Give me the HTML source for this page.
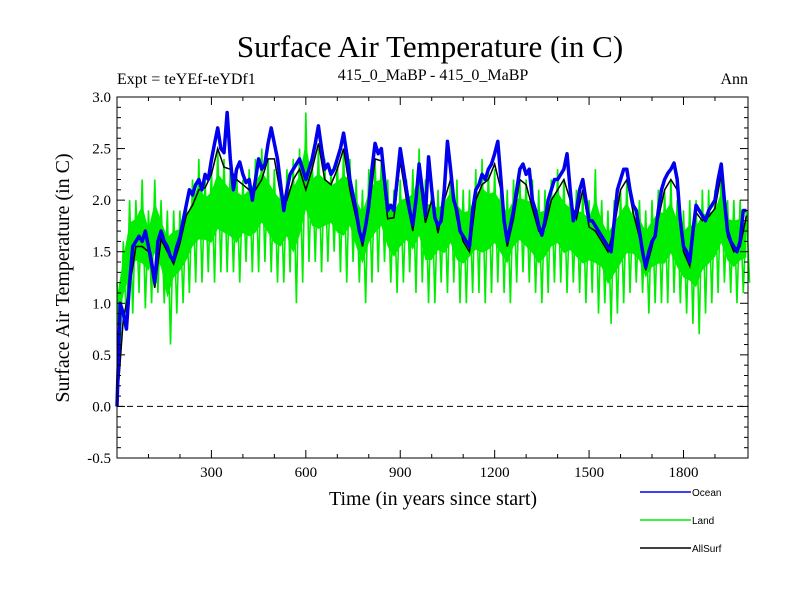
<!DOCTYPE html>
<html><head><meta charset="utf-8"><style>
body{margin:0;background:#fff;}
svg text{font-family:"Liberation Serif",serif;}
</style></head><body>
<svg id="chart" width="800" height="600" xmlns="http://www.w3.org/2000/svg">
<rect width="800" height="600" fill="#fff"/>
<text x="430" y="57" font-size="31" text-anchor="middle">Surface Air Temperature (in C)</text>
<text x="117" y="84" font-size="16">Expt = teYEf-teYDf1</text>
<text x="433" y="80" font-size="16" text-anchor="middle">415_0_MaBP - 415_0_MaBP</text>
<text x="748" y="84" font-size="16" text-anchor="end">Ann</text>
<text x="433" y="505" font-size="20" text-anchor="middle">Time (in years since start)</text>
<text transform="translate(69,278) rotate(-90)" font-size="20" text-anchor="middle">Surface Air Temperature (in C)</text>
<g id="plot"></g>
<g id="axes"></g>
<g id="legend"></g>
</svg>
<script>
const ocean=[0,1.0,0.9,0.75,1.2,1.55,1.6,1.65,1.6,1.7,1.55,1.4,1.2,1.6,1.7,1.6,1.55,1.45,1.42,1.55,1.64,1.8,1.95,2.1,2.05,2.15,2.2,2.1,2.25,2.2,2.39,2.55,2.7,2.5,2.46,2.85,2.4,2.1,2.3,2.37,2.25,2.17,2.2,2.0,2.2,2.4,2.3,2.35,2.55,2.7,2.55,2.4,2.15,1.9,2.1,2.25,2.3,2.35,2.4,2.3,2.2,2.3,2.4,2.55,2.72,2.5,2.3,2.35,2.25,2.3,2.4,2.5,2.65,2.45,2.2,2.05,1.9,1.7,1.6,1.75,1.95,2.3,2.55,2.45,2.5,2.2,1.9,1.95,1.9,2.2,2.5,2.3,2.1,1.9,1.76,2.0,2.35,2.1,1.85,2.42,2.1,1.83,1.75,1.8,2.1,2.57,2.3,2.0,1.9,1.7,1.65,1.6,1.55,1.9,2.1,2.15,2.25,2.2,2.3,2.35,2.45,2.57,2.2,1.8,1.6,1.75,1.9,2.1,2.3,2.35,2.25,2.3,2.0,1.9,1.75,1.66,1.8,2.0,2.1,2.2,2.2,2.25,2.3,2.45,2.1,1.8,1.9,2.1,2.2,2.0,1.8,1.8,1.75,1.7,1.65,1.6,1.55,1.5,1.8,2.1,2.2,2.3,2.3,2.1,1.95,1.9,1.7,1.5,1.35,1.5,1.6,1.65,1.9,2.1,2.2,2.26,2.3,2.36,2.2,1.8,1.55,1.5,1.4,1.7,1.95,1.9,1.85,1.8,1.9,1.95,2.0,2.2,2.35,2.0,1.7,1.6,1.55,1.5,1.6,1.9,1.9];
const allSurf=[0,0.85,1.15,1.55,1.55,1.5,1.15,1.62,1.5,1.38,1.58,1.85,1.95,2.1,2.12,2.25,2.5,2.32,2.3,2.2,2.15,2.1,2.1,2.2,2.4,2.4,2.05,2.0,2.2,2.3,2.1,2.3,2.55,2.2,2.15,2.3,2.5,2.1,1.82,1.55,1.88,2.4,2.38,1.82,1.83,2.38,2.0,1.7,2.25,1.78,2.0,1.68,2.0,2.2,1.82,1.6,1.5,2.0,2.15,2.2,2.35,2.1,1.55,1.82,2.2,2.15,1.92,1.7,1.74,2.0,2.1,2.2,2.0,1.82,2.1,1.74,1.7,1.6,1.5,1.74,2.1,2.2,1.88,1.64,1.32,1.55,1.82,2.1,2.2,2.1,1.5,1.36,1.88,1.8,1.84,1.92,2.25,1.65,1.5,1.55,1.85];
const landHigh=[1.2,1.6,2.0,2.0,2.2,1.9,2.2,2.0,1.9,1.9,1.9,2.0,2.2,2.4,2.2,2.3,2.5,2.4,2.3,2.3,2.2,2.3,2.4,2.5,2.4,2.3,2.2,2.3,2.4,2.5,2.85,2.4,2.5,2.4,2.3,2.4,2.5,2.4,2.2,2.1,2.3,2.4,2.4,2.2,2.1,2.2,2.2,2.3,2.5,2.2,2.2,2.1,2.2,2.3,2.2,2.1,2.1,2.3,2.4,2.3,2.3,2.2,2.1,2.2,2.2,2.2,2.2,2.1,2.1,2.2,2.3,2.2,2.1,2.1,2.1,2.0,2.3,2.0,1.9,2.0,2.1,2.2,2.0,2.0,1.9,2.0,2.1,2.1,2.2,2.0,1.9,2.0,2.0,2.1,2.1,2.1,2.3,2.0,2.0,2.0,1.9];
const landLow=[0.5,0.8,0.9,1.1,0.95,1.0,1.1,1.0,0.6,0.9,1.0,1.1,1.2,1.2,1.3,1.2,1.3,1.3,1.3,1.2,1.4,1.3,1.3,1.4,1.3,1.2,1.2,1.3,1.0,1.2,1.4,1.4,1.3,1.4,1.5,1.3,1.2,1.4,1.2,1.0,1.2,1.3,1.4,1.2,1.1,1.2,1.3,1.1,1.2,1.0,1.0,1.2,1.1,1.2,1.0,1.0,1.1,1.1,1.0,1.1,1.2,1.1,1.0,1.2,1.3,1.2,1.1,1.0,1.1,1.2,1.2,1.1,1.2,1.1,1.0,1.1,0.9,1.0,0.8,0.9,1.0,1.1,1.2,1.1,0.9,1.0,1.0,1.0,1.1,1.0,0.9,0.8,0.7,0.9,1.0,1.1,1.2,1.1,1.0,1.1,1.2];
const xTicks=[300,600,900,1200,1500,1800];
const yTicks=[-0.5,0.0,0.5,1.0,1.5,2.0,2.5,3.0];
const seriesNames=["Ocean","Land","AllSurf"];

const X0=117,X1=748,Y0=97,Y1=458,xMin=0,xMax=2005,yMin=-0.5,yMax=3.0;
const sx=v=>X0+(v-xMin)/(xMax-xMin)*(X1-X0);
const sy=v=>Y1-(v-yMin)/(yMax-yMin)*(Y1-Y0);
const NS="http://www.w3.org/2000/svg";
const plot=document.getElementById('plot'),axes=document.getElementById('axes'),legend=document.getElementById('legend');
function mk(t,a,p){const e=document.createElementNS(NS,t);for(const k in a)e.setAttribute(k,a[k]);p.appendChild(e);return e;}

const z=mk('line',{x1:X0,x2:X1,y1:sy(0),y2:sy(0),stroke:'#000','stroke-width':1,'stroke-dasharray':'6,4'},plot);



// land core band (between envelopes, narrowed)
let pts=[];
landHigh.forEach((v,i)=>pts.push(sx(i*20)+','+sy(v-(v-landLow[i])*0.2)));
for(let i=landLow.length-1;i>=0;i--)pts.push(sx(i*20)+','+sy(landLow[i]+(landHigh[i]-landLow[i])*0.35));
const land=mk('polygon',{points:pts.join(' '),fill:'#00ee00',stroke:'none'},plot);


let zz=[];
landHigh.forEach((v,i)=>{zz.push(sx(i*20)+','+sy(v));zz.push(sx(i*20+10)+','+sy(landLow[i]));});
const landz=mk('polyline',{points:zz.join(' '),fill:'none',stroke:'#00ee00','stroke-width':1.6},plot);



const al=mk('polyline',{points:allSurf.map((v,i)=>sx(i*20)+','+sy(v)).join(' '),fill:'none',stroke:'#000','stroke-width':1.5},plot);


const oc=mk('polyline',{points:ocean.map((v,i)=>sx(i*10)+','+sy(v)).join(' '),fill:'none',stroke:'#0000ee','stroke-width':3.5,'stroke-linejoin':'round'},plot);



const fr=mk('rect',{x:X0,y:Y0,width:X1-X0,height:Y1-Y0,fill:'none',stroke:'#000','stroke-width':1},axes);


for(let v=100;v<2000;v+=100){const L=(v%300===0)?8:4;
 mk('line',{x1:sx(v),x2:sx(v),y1:Y1,y2:Y1-L,stroke:'#000'},axes);
 mk('line',{x1:sx(v),x2:sx(v),y1:Y0,y2:Y0+L,stroke:'#000'},axes);}
for(let k=-5;k<=30;k++){const v=k/10,L=(k%5===0)?8:4;
 mk('line',{x1:X0,x2:X0+L,y1:sy(v),y2:sy(v),stroke:'#000'},axes);
 mk('line',{x1:X1,x2:X1-L,y1:sy(v),y2:sy(v),stroke:'#000'},axes);}
xTicks.forEach(v=>{const t=mk('text',{x:sx(v),y:Y1+19,'font-size':15,'text-anchor':'middle'},axes);t.textContent=v;
 
 });
yTicks.forEach(v=>{const t=mk('text',{x:X0-6,y:sy(v)+5,'font-size':15,'text-anchor':'end'},axes);t.textContent=v.toFixed(1);
 
 });

const cols=['#0000ee','#00ee00','#000'];
seriesNames.forEach((n,i)=>{const y=492+i*28;
 const g=mk('g',{},legend);
 
 
 mk('line',{x1:640,x2:691,y1:y,y2:y,stroke:cols[i],'stroke-width':1.5},g);
 const t=mk('text',{x:692,y:y+4,'font-size':10,style:'font-family:"Liberation Sans",sans-serif'},g);t.textContent=n;});
</script>
</body></html>
